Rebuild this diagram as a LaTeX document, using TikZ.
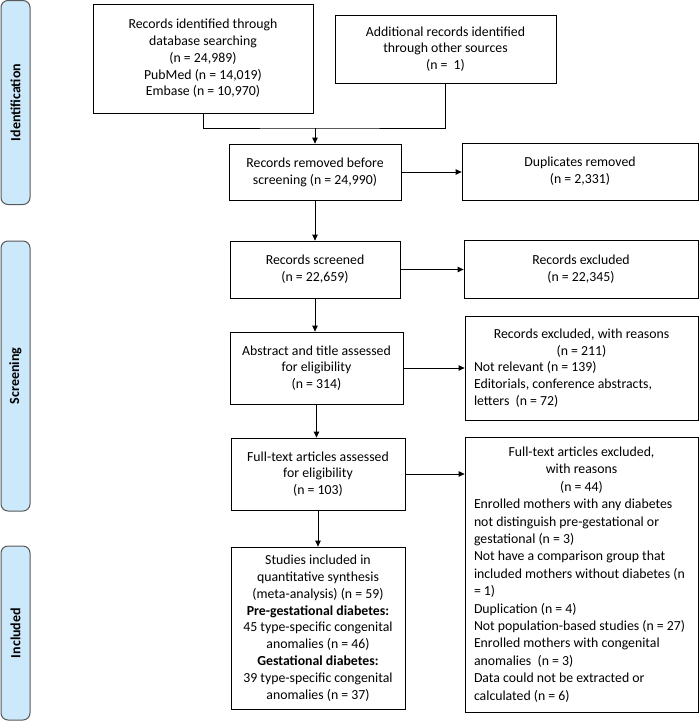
\documentclass[tikz,border=0pt]{standalone}
\usepackage{fontspec}
\setmainfont{Carlito}
\usetikzlibrary{arrows.meta,calc}
\definecolor{prismaPhaseBlue}{RGB}{204, 232, 251}
\definecolor{prismaPhaseEdge}{RGB}{88, 88, 88}
\newcommand{\headline}[1]{\makebox[233pt]{#1}}
\newcommand{\reasonline}[1]{\hspace*{9pt}#1}

\begin{document}
\begin{tikzpicture}[
  x=1pt, y=-1pt,
  stagebox/.style={
    draw,
    line width=0.8pt,
    align=center,
    inner sep=2pt,
    font=\fontsize{13.8}{16.8}\selectfont
  },
  reasonbox/.style={
    draw,
    line width=0.8pt,
    align=left,
    inner xsep=0pt,
    inner ysep=2pt,
    minimum width=233pt
  },
  phase/.style={
    draw=prismaPhaseEdge,
    fill=prismaPhaseBlue,
    line width=1pt,
    rounded corners=7pt,
    rotate=90,
    minimum height=29pt,
    inner sep=0pt,
    font=\fontsize{14}{16}\selectfont\bfseries
  },
  arrow/.style={-{Triangle[length=6pt,width=5.5pt]},line width=0.8pt}
]
  \useasboundingbox (0,0) rectangle (700,721);

  % phase bars on the left
  \node[phase,minimum width=204pt] (ident) at (15.5,102.5) {Identification};
  \node[phase,minimum width=270pt] (screen) at (15.5,376) {Screening};
  \node[phase,minimum width=174pt] (incl) at (15.5,633) {Included};

  % identification
  \node[stagebox,minimum width=220pt,minimum height=109pt] (database) at (203,58.5)
    {Records identified through\\database searching\\(n = 24,989)\\PubMed (n = 14,019)\\Embase (n = 10,970)};
  \node[stagebox,minimum width=221pt,minimum height=68pt] (other) at (445.5,49)
    {Additional records identified\\through other sources\\(n =~ 1)};
  \node[stagebox,minimum width=172pt,minimum height=56pt] (removed) at (315,172)
    {Records removed before\\screening (n = 24,990)};
  \node[stagebox,minimum width=236pt,minimum height=57pt] (duplicates) at (580,171.5)
    {Duplicates removed\\(n = 2,331)};

  % screening
  \node[stagebox,minimum width=170pt,minimum height=57pt] (screened) at (315,269.5)
    {Records screened\\(n = 22,659)};
  \node[stagebox,minimum width=234pt,minimum height=58pt] (excluded) at (581,269)
    {Records excluded\\(n = 22,345)};
  \node[stagebox,minimum width=173pt,minimum height=72pt] (abstract) at (316.5,368)
    {Abstract and title assessed\\for eligibility\\(n = 314)};
  \node[reasonbox,minimum height=104pt,font=\fontsize{13.8}{16.8}\selectfont] (reasons) at (581.5,368)
    {\headline{Records excluded, with reasons}\\
     \headline{(n = 211)}\\
     \reasonline{Not relevant (n = 139)}\\
     \reasonline{Editorials, conference abstracts,}\\
     \reasonline{letters~ (n = 72)}};
  \node[stagebox,minimum width=174pt,minimum height=72pt] (fulltext) at (318,474)
    {Full-text articles assessed\\for eligibility\\(n = 103)};
  \node[reasonbox,minimum height=275pt,font=\fontsize{13.8}{17.4}\selectfont] (fullexcl) at (581.5,574.5)
    {\headline{Full-text articles excluded,}\\
     \headline{with reasons}\\
     \headline{(n = 44)}\\
     \reasonline{Enrolled mothers with any diabetes}\\
     \reasonline{not distinguish pre-gestational or}\\
     \reasonline{gestational (n = 3)}\\
     \reasonline{Not have a comparison group that}\\
     \reasonline{included mothers without diabetes (n}\\
     \reasonline{\mbox{=}~1)}\\
     \reasonline{Duplication (n = 4)}\\
     \reasonline{Not population-based studies (n = 27)}\\
     \reasonline{Enrolled mothers with congenital}\\
     \reasonline{anomalies~ (n = 3)}\\
     \reasonline{Data could not be extracted or}\\
     \reasonline{calculated (n = 6)}};

  % included
  \node[stagebox,minimum width=174pt,minimum height=162pt] (synthesis) at (318,628)
    {Studies included in\\quantitative synthesis\\(meta-analysis) (n = 59)\\
     \textbf{Pre-gestational diabetes:}\\45 type-specific congenital\\anomalies (n = 46)\\
     \textbf{Gestational diabetes:}\\39 type-specific congenital\\anomalies (n = 37)};

  % connectors
  \coordinate (merge) at (315,128);
  \draw[line width=0.8pt] (database.south) |- (merge) -| (other.south);
  \draw[arrow] (merge) -- (removed.north);
  \draw[arrow] (removed.east) -- (removed.east -| duplicates.west);
  \draw[arrow] (removed.south) -- (removed.south |- screened.north);
  \draw[arrow] (screened.east) -- (screened.east -| excluded.west);
  \draw[arrow] (screened.south) -- (screened.south |- abstract.north);
  \draw[arrow] (abstract.east) -- (abstract.east -| reasons.west);
  \draw[arrow] (abstract.south) -- (abstract.south |- fulltext.north);
  \draw[arrow] (fulltext.east) -- (fulltext.east -| fullexcl.west);
  \draw[arrow] (fulltext.south) -- (fulltext.south |- synthesis.north);
\end{tikzpicture}
\end{document}
